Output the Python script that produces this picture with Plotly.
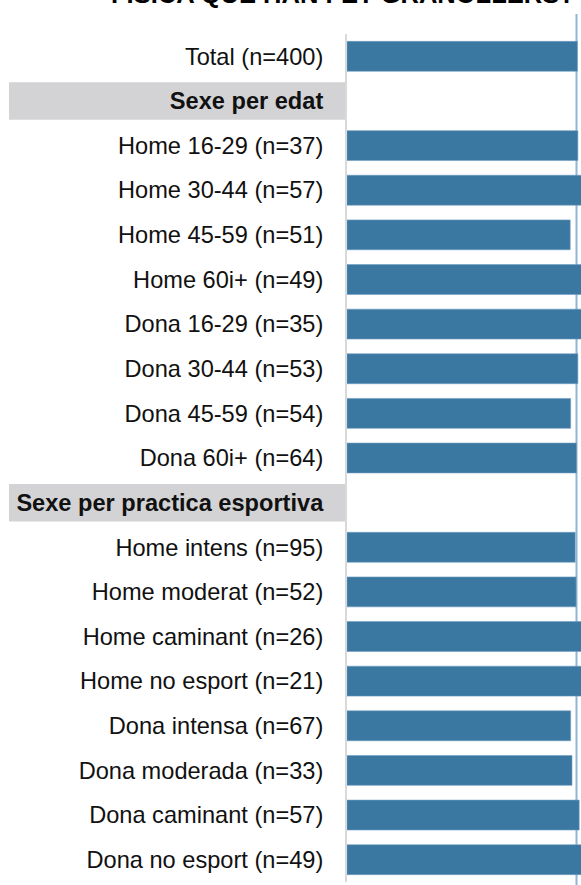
import plotly.graph_objects as go

# Rows top-to-bottom; None marks a section header row
LABELS = [
    "Total (n=400)",
    "<b>Sexe per edat</b>",
    "Home 16-29 (n=37)", "Home 30-44 (n=57)", "Home 45-59 (n=51)", "Home 60i+ (n=49)",
    "Dona 16-29 (n=35)", "Dona 30-44 (n=53)", "Dona 45-59 (n=54)", "Dona 60i+ (n=64)",
    "<b>Sexe per practica esportiva</b>",
    "Home intens (n=95)", "Home moderat (n=52)", "Home caminant (n=26)", "Home no esport (n=21)",
    "Dona intensa (n=67)", "Dona moderada (n=33)", "Dona caminant (n=57)", "Dona no esport (n=49)",
]
VALUES = [
    51.2,
    None,
    51.3, 55.0, 49.6, 56.0, 54.0, 51.3, 49.7, 51.0,
    None,
    50.7, 50.9, 57.0, 55.0, 49.7, 50.0, 51.6, 54.0,
]
HEADERS = [1, 10]
REF_VALUE = 51.0
TITLE = "FISICA QUE HAN FET GRANOLLERS?"

W, H = 581, 885
ML, MT, MB = 347, 34, 3
PH = H - MT - MB
PW = W - ML
FONT = "Liberation Sans, Arial, sans-serif"

rows = list(range(len(LABELS)))
fig = go.Figure(go.Bar(
    x=VALUES, y=rows, orientation="h",
    marker=dict(color="#3A77A1", line=dict(color="#6F9DC2", width=0.6)),
    hoverinfo="skip",
))

# grey header bands behind the section labels
for r in HEADERS:
    fig.add_shape(type="rect", xref="paper", yref="y",
                  x0=(9 - ML) / PW, x1=0, y0=r - 0.42, y1=r + 0.42,
                  fillcolor="#D3D3D5", line=dict(width=0), layer="below")

# reference line at the total
fig.add_shape(type="line", xref="x", yref="paper",
              x0=REF_VALUE, x1=REF_VALUE, y0=-0.01, y1=1 + (MT - 14) / PH,
              line=dict(color="#8DB6D9", width=2), layer="below")

fig.add_annotation(text=f"<b>{TITLE}</b>", xref="paper", yref="paper",
                   x=(577 - ML) / PW, y=1 + (MT - 10) / PH,
                   xanchor="right", yanchor="bottom", showarrow=False,
                   font=dict(size=25.5, color="#000000", family=FONT))

fig.update_layout(
    width=W, height=H,
    margin=dict(l=ML, r=0, t=MT, b=MB, pad=0),
    plot_bgcolor="white", paper_bgcolor="white",
    font=dict(family=FONT, size=23.6, color="#111111"),
    showlegend=False, bargap=0.33,
)
fig.update_xaxes(range=[0, 52], showticklabels=False, showgrid=False,
                 zeroline=False, showline=False, fixedrange=True)
fig.update_yaxes(tickmode="array", tickvals=rows, ticktext=LABELS,
                 range=[len(LABELS) - 0.5, -0.5], showgrid=False, zeroline=False,
                 showline=True, linecolor="#D9D9D9", linewidth=2,
                 ticks="", ticklabelstandoff=17, fixedrange=True)

fig.write_html("out.html", config={"displayModeBar": False},
               post_script="document.body.style.margin='0';"
               "document.body.style.overflow='hidden';")
